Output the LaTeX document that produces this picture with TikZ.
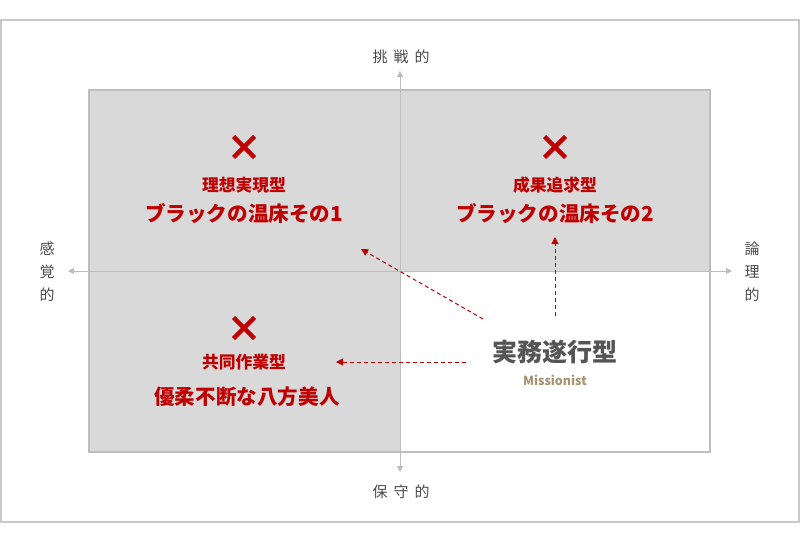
\documentclass[tikz,border=0pt]{standalone}
\usepackage{fontspec}
\setmainfont{Noto Sans CJK JP}
\newfontfamily\jp{Noto Sans CJK JP}
\usetikzlibrary{arrows.meta}
\definecolor{frame}{HTML}{C8C8C8}
\definecolor{boxfill}{HTML}{D9D9D9}
\definecolor{axis}{HTML}{BDBDBD}
\definecolor{jred}{HTML}{C00000}
\definecolor{dgray}{HTML}{555555}
\definecolor{lgray}{HTML}{4A4A4A}
\definecolor{tan}{HTML}{A8916E}
\tikzset{
  axisline/.style={draw=axis, line width=1pt, -{Triangle[length=6pt,width=6pt,fill=axis]}},
  redarrow/.style={draw=jred, line width=1pt, dash pattern=on 4pt off 3pt, -{Triangle[length=7pt,width=7pt,fill=jred]}},
  cross/.style={draw=jred, line width=4.5pt},
  typename/.style={text=jred, font=\jp\bfseries\fontsize{16.8}{19}\selectfont, inner sep=0pt},
  subname/.style={text=jred, font=\jp\bfseries\fontsize{20.6}{23}\selectfont, inner sep=0pt},
  axislabel/.style={text=lgray, font=\jp\fontsize{15}{17}\selectfont, inner sep=0pt},
}
\begin{document}
\begin{tikzpicture}[x=1pt,y=-1pt]
\useasboundingbox (0,0) rectangle (800,543);
\fill[white] (0,0) rectangle (800,543);
\draw[frame, line width=1.2pt] (1,20) rectangle (799,522);
% quadrants
\fill[boxfill] (89,90) rectangle (400,452);
\fill[boxfill] (400,90) rectangle (710,271);
\draw[axis, line width=1.2pt] (89,90) rectangle (710,452);
% axes
\coordinate (top) at (400,71);
\coordinate (bot) at (400,472);
\coordinate (lft) at (68,271);
\coordinate (rgt) at (732,271);
\coordinate (ctr) at (400,271);
\draw[axisline] (ctr) -- (top);
\draw[axisline] (ctr) -- (bot);
\draw[axisline] (ctr) -- (lft);
\draw[axisline] (ctr) -- (rgt);
% axis labels
\node[axislabel] (lchal) at (401,57) {挑\hspace{6pt}戦\hspace{6pt}的};
\node[axislabel] (lcons) at (401,492) {保\hspace{6pt}守\hspace{6pt}的};
\node[axislabel, align=center] (lsens) at (47,272) {感\\[6pt]覚\\[6pt]的};
\node[axislabel, align=center] (llogi) at (752,272) {論\\[6pt]理\\[6pt]的};
% crosses
\foreach \n/\cx/\cy in {c1/244/147, c2/555/147, c3/244/328}{
  \coordinate (\n) at (\cx,\cy);
  \draw[cross] ([shift={(-10.5,-10.5)}]\n) -- ([shift={(10.5,10.5)}]\n);
  \draw[cross] ([shift={(-10.5,10.5)}]\n) -- ([shift={(10.5,-10.5)}]\n);
}
% quadrant texts
\node[typename] (t1) at (244,185) {理想実現型};
\node[subname] (s1) at (244,214) {ブラックの温床その1};
\node[typename] (t2) at (555,185) {成果追求型};
\node[subname] (s2) at (555,214) {ブラックの温床その2};
\node[typename] (t3) at (244,362) {共同作業型};
\node[subname] (s3) at (247,397) {優柔不断な八方美人};
% mission
\node[text=dgray, font=\jp\bfseries\fontsize{25}{28}\selectfont, inner sep=0pt] (m) at (555,352) {実務遂行型};
\node[text=tan, font=\jp\bfseries\fontsize{12.5}{14}\selectfont, inner sep=0pt] (mm) at (555,380) {Missionist};
% red arrows
\coordinate (a1s) at (483,319);
\coordinate (a1e) at (361,249);
\coordinate (a2s) at (555,316);
\coordinate (a2e) at (555,237);
\coordinate (a3s) at (466,362);
\coordinate (a3e) at (336,362);
\draw[redarrow] (a1s) -- (a1e);
\draw[redarrow] (a2s) -- (a2e);
\draw[redarrow] (a3s) -- (a3e);
\end{tikzpicture}
\end{document}
